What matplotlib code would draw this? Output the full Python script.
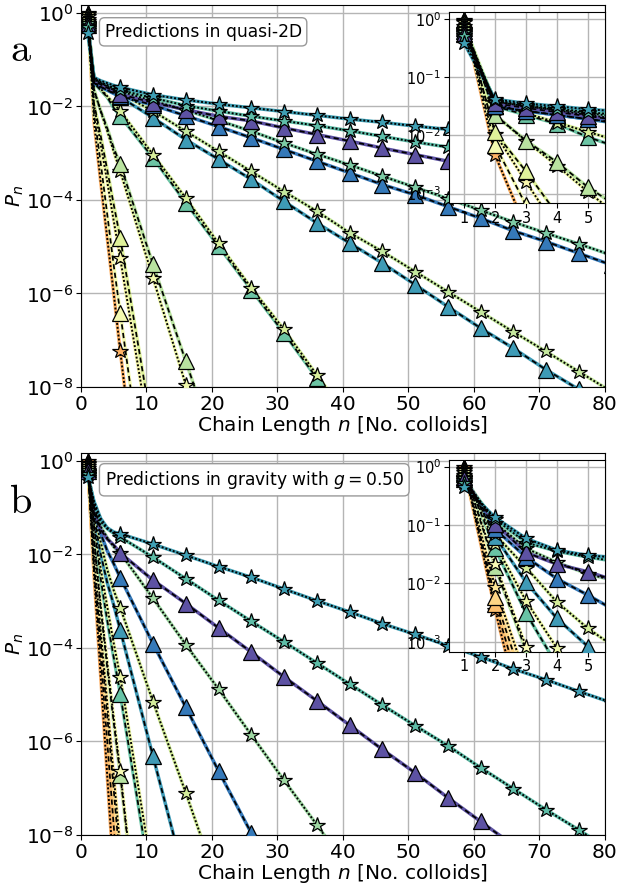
import numpy as np
import matplotlib.pyplot as plt
from matplotlib.ticker import FixedLocator, NullLocator, LogFormatterMathtext

plt.rcParams["font.size"] = 14.5

# chain lengths n at which P_n was read (main markers every 5, inset markers 1..5)
N = [1, 2, 3, 4, 5, 6, 11, 16, 21, 26, 31, 36, 41, 46, 51, 56, 61, 66, 71, 76, 81]

# ---- panel a: quasi-2D, log10(P_n) ----
a_s1 = [-0.42, -1.38, -1.45, -1.50, -1.55, -1.59, -1.75, -1.86, -1.95, -2.03, -2.11,
        -2.19, -2.27, -2.34, -2.42, -2.49, -2.57, -2.64, -2.72, -2.79, -2.87]
a_s2 = [-0.30, -1.40, -1.48, -1.54, -1.60, -1.65, -1.82, -1.98, -2.10, -2.21, -2.31,
        -2.41, -2.52, -2.64, -2.76, -2.87, -2.99, -3.10, -3.22, -3.33, -3.45]
a_t3 = [-0.25, -1.45, -1.53, -1.60, -1.67, -1.74, -1.92, -2.07, -2.21, -2.31, -2.46,
        -2.60, -2.74, -2.89, -3.03, -3.17, -3.31, -3.45, -3.60, -3.74, -3.88]
a_s4 = [-0.22, -1.42, -1.50, -1.56, -1.62, -1.68, -1.88, -2.08, -2.30, -2.53, -2.78,
        -3.02, -3.25, -3.49, -3.73, -3.97, -4.22, -4.47, -4.71, -4.94, -5.18]
a_t5 = [-0.20, -1.50, -1.58, -1.65, -1.72, -1.78, -1.97, -2.20, -2.43, -2.67, -2.92,
        -3.17, -3.42, -3.67, -3.89, -4.14, -4.39, -4.66, -4.89, -5.14, -5.39]
a_s6 = [-0.18, -1.42, -1.50, -1.57, -1.65, -1.72, -2.10, -2.53, -2.96, -3.39, -3.82,
        -4.24, -4.70, -5.10, -5.53, -5.96, -6.39, -6.82, -7.24, -7.67, -8.10]
a_t7 = [-0.16, -1.50, -1.58, -1.65, -1.72, -1.80, -2.24, -2.71, -3.13, -3.56, -4.03,
        -4.49, -4.92, -5.35, -5.81, -6.28, -6.74, -7.17, -7.63, -8.05, -8.50]
a_s8 = [-0.12, -1.45, -1.62, -1.78, -1.94, -2.10, -3.03, -3.96, -4.93, -5.88, -6.77,
        -7.74, -8.70]
a_t9 = [-0.10, -1.50, -1.65, -1.80, -2.03, -2.21, -3.10, -4.06, -4.99, -5.92, -6.85,
        -7.81, -8.77]
a_t10 = [-0.07, -1.65, -2.09, -2.46, -2.89, -3.24, -5.38, -7.45, -9.50]
a_s11 = [-0.06, -1.65, -2.10, -2.52, -2.97, -3.39, -5.67, -7.95, -10.2]
a_t12 = [-0.04, -1.95, -2.62, -3.35, -4.10, -4.82, -9.00]
a_s13 = [-0.03, -1.97, -2.80, -3.60, -4.45, -5.25, -9.50]
a_t14 = [-0.02, -2.17, -3.20, -4.30, -5.40, -6.42, -11.5]
a_s15 = [-0.01, -2.34, -3.60, -4.80, -6.00, -7.24, -13.0]

# ---- panel b: gravity g = 0.50, log10(P_n) ----
b_s1 = [-0.35, -0.87, -1.23, -1.43, -1.52, -1.56, -1.78, -2.02, -2.26, -2.49, -2.74,
        -2.99, -3.23, -3.48, -3.71, -3.95, -4.19, -4.45, -4.68, -4.93, -5.17]
b_s2 = [-0.28, -0.90, -1.30, -1.45, -1.55, -1.63, -2.06, -2.52, -2.98, -3.43, -3.87,
        -4.32, -4.77, -5.22, -5.66, -6.09, -6.56, -7.01, -7.46, -7.89, -8.34]
b_t3 = [-0.22, -0.98, -1.47, -1.67, -1.80, -1.97, -2.55, -3.05, -3.57, -4.09, -4.62,
        -5.13, -5.65, -6.17, -6.67, -7.20, -7.71, -8.22]
b_s4 = [-0.20, -0.96, -1.40, -1.64, -1.84, -1.97, -2.94, -3.93, -4.88, -5.86, -6.83,
        -7.78, -8.75]
b_t5 = [-0.18, -1.07, -1.55, -1.92, -2.20, -2.50, -3.91, -5.27, -6.63, -7.96, -9.30]
b_s6 = [-0.15, -1.16, -1.73, -2.32, -2.77, -3.14, -5.15, -7.10, -9.10]
b_t7 = [-0.13, -1.20, -1.98, -2.60, -3.08, -3.62, -6.32, -9.00]
b_s8 = [-0.10, -1.33, -2.30, -3.11, -3.90, -4.62, -8.90]
b_t9 = [-0.09, -1.40, -2.51, -3.40, -4.20, -4.98, -9.30]
b_s10 = [-0.06, -1.67, -3.08, -4.30, -5.50, -6.64, -13.0]
b_t11 = [-0.06, -1.72, -3.15, -4.40, -5.60, -6.72, -13.0]
b_s12 = [-0.04, -2.06, -3.62, -5.18, -6.74, -8.30]
b_t13 = [-0.03, -2.24, -3.84, -5.44, -7.04, -8.64]
b_t14 = [-0.02, -2.35, -4.17, -5.99, -7.81, -9.63]
b_s15 = [-0.01, -2.45, -4.58, -6.71, -8.84]

QUASI_2D = [
    ('*', '#fdb265', a_s15), ('^', '#f4f9b0', a_t14), ('*', '#f8f6ad', a_s13),
    ('^', '#dff29a', a_t12), ('*', '#f1f9ad', a_s11), ('^', '#b9e3a0', a_t10),
    ('^', '#6cc4a4', a_t9), ('*', '#d8ef9c', a_s8), ('^', '#3e9bb6', a_t7),
    ('*', '#c5e89e', a_s6), ('^', '#3579b9', a_t5), ('*', '#7dcba4', a_s4),
    ('^', '#5d52a3', a_t3), ('*', '#5ebda8', a_s2), ('*', '#3f9fb4', a_s1),
]
GRAVITY = [
    ('*', '#fdae61', b_s15), ('^', '#fdbf6f', b_t14), ('^', '#fed585', b_t13),
    ('*', '#fee899', b_s12), ('^', '#b6e2a1', b_t11), ('*', '#f8fbb6', b_s10),
    ('^', '#68c3a5', b_t9), ('*', '#eef8a8', b_s8), ('^', '#3f9ab6', b_t7),
    ('*', '#d4ed9b', b_s6), ('^', '#3579b9', b_t5), ('*', '#9fd8a3', b_s4),
    ('^', '#5d52a3', b_t3), ('*', '#5ebda7', b_s2), ('*', '#3f9fb4', b_s1),
]


def draw_series(ax, marker, color, logp, inset=False):
    n = N[:len(logp)]
    p = 10.0 ** np.array(logp)
    if inset:
        every = [i for i in range(len(n)) if n[i] <= 5]
    else:
        every = [0] + list(range(5, len(n)))
    ls = (0, (1.0, 1.0)) if marker == '*' else (0, (3.0, 2.0))
    ax.plot(n, p, color=color, lw=2.5, zorder=2)
    ax.plot(n, p, color='k', lw=1.4 if marker == '*' else 1.25, ls=ls, zorder=3)
    ax.plot(n, p, ls='none', marker=marker, ms=11.5 if marker == '*' else 11,
            mfc=color, mec='k', mew=0.9, markevery=every, zorder=4)


def panel(fig, rect, inset_rect, series, note, letter, letter_y):
    ax = fig.add_axes(rect)
    for m, c, v in series:
        draw_series(ax, m, c, v)
    ax.set_yscale('log')
    ax.set_xlim(0, 80)
    ax.set_ylim(1e-8, 1.5)
    ax.yaxis.set_major_locator(FixedLocator([1e-8, 1e-6, 1e-4, 1e-2, 1e0]))
    ax.yaxis.set_major_formatter(LogFormatterMathtext())
    ax.yaxis.set_minor_locator(NullLocator())
    ax.set_xticks(range(0, 81, 10))
    ax.tick_params(pad=2)
    ax.grid(True, color='#b5b5b5', lw=1.0)
    ax.set_axisbelow(True)
    ax.set_xlabel('Chain Length $n$ [No. colloids]', labelpad=0)
    ax.set_ylabel('$P_n$', labelpad=0)
    ax.text(0.045, 0.929, note, transform=ax.transAxes, fontsize=12.3,
            va='center', ha='left', zorder=6,
            bbox=dict(boxstyle='round,pad=0.3', fc='white', ec='#999999', lw=1))
    fig.text(0.033, letter_y, r'$\mathrm{%s}$' % letter, math_fontfamily='cm',
             fontsize=29, ha='center', va='center')

    ins = fig.add_axes(inset_rect)
    for m, c, v in series:
        draw_series(ins, m, c, v, inset=True)
    ins.set_yscale('log')
    ins.set_xlim(0.5, 5.55)
    ins.set_ylim(6.8e-4, 1.3)
    ins.yaxis.set_major_locator(FixedLocator([1e-3, 1e-2, 1e-1, 1e0]))
    ins.yaxis.set_major_formatter(LogFormatterMathtext())
    ins.yaxis.set_minor_locator(NullLocator())
    ins.set_xticks([1, 2, 3, 4, 5])
    ins.tick_params(labelsize=10.5, pad=2)
    ins.grid(True, color='#b5b5b5', lw=1.0)
    ins.set_axisbelow(True)
    return ax, ins


fig = plt.figure(figsize=(6.21, 8.86), dpi=100)
panel(fig, [0.1304, 0.5632, 0.8438, 0.4315], [0.7225, 0.7705, 0.2517, 0.2156],
      QUASI_2D, 'Predictions in quasi-2D', 'a', 0.944)
panel(fig, [0.1304, 0.0576, 0.8438, 0.4315], [0.7225, 0.2645, 0.2517, 0.2164],
      GRAVITY, 'Predictions in gravity with $g = 0.50$', 'b', 0.433)

fig.savefig('out.png', dpi=100)
